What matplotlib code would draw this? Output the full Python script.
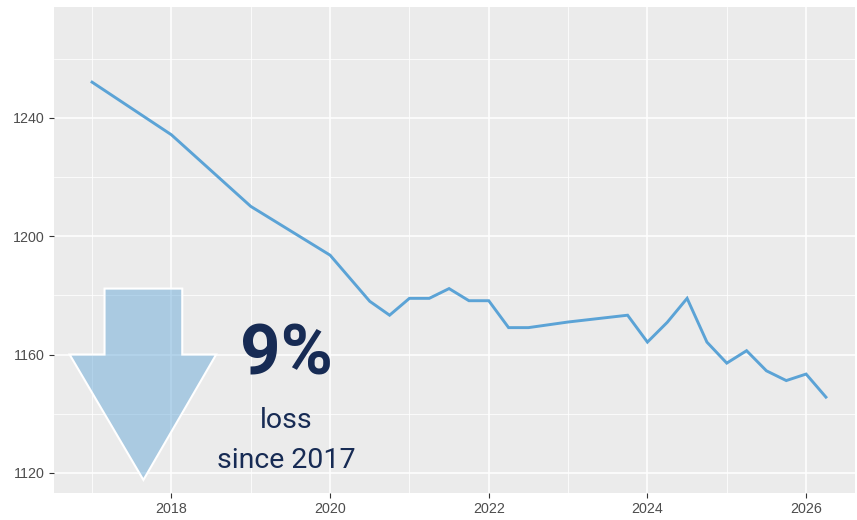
import matplotlib.pyplot as plt
from matplotlib.patches import Polygon
from matplotlib.colors import to_rgba

# quarterly values, decimal years
years = [2017.0, 2018.0, 2019.0, 2020.0, 2020.5, 2020.75, 2021.0, 2021.25,
         2021.5, 2021.75, 2022.0, 2022.25, 2022.5, 2023.0, 2023.75, 2024.0,
         2024.25, 2024.5, 2024.75, 2025.0, 2025.25, 2025.5, 2025.75, 2026.0, 2026.25]
values = [1252.1, 1234.3, 1210.1, 1193.6, 1178.0, 1173.3, 1179.0, 1179.0,
          1182.3, 1178.2, 1178.2, 1169.1, 1169.1, 1171.0, 1173.3, 1164.2,
          1170.9, 1179.0, 1164.2, 1157.1, 1161.3, 1154.5, 1151.2, 1153.4, 1145.6]

x_ticks = [2018, 2020, 2022, 2024, 2026]
y_ticks = [1120, 1160, 1200, 1240]

pct_label = "9%"
loss_label = "loss"
since_label = "since 2017"

line_col = "#5BA3D6"
navy = "#172B54"

fig = plt.figure(figsize=(8.57, 5.2), dpi=100)
ax = fig.add_axes([0.063, 0.052, 0.935, 0.9345])
ax.set_facecolor("#EBEBEB")
for s in ax.spines.values():
    s.set_visible(False)

ax.set_xlim(2016.52, 2026.62)
ax.set_ylim(1113.2, 1277.5)
ax.set_xticks(x_ticks)
ax.set_yticks(y_ticks)
ax.set_xticks([2017, 2019, 2021, 2023, 2025], minor=True)
ax.set_yticks([1140, 1180, 1220, 1260], minor=True)
ax.grid(which="major", color="white", lw=1.1)
ax.grid(which="minor", color="white", lw=0.55)
ax.set_axisbelow(True)
ax.tick_params(which="major", length=3.5, color="#333333", labelcolor="#4D4D4D",
               labelsize=10.3, pad=3)
ax.tick_params(which="minor", length=0)
for lab in ax.get_xticklabels() + ax.get_yticklabels():
    lab.set_fontfamily("Liberation Sans")

ax.plot(years, values, color=line_col, lw=2.1, solid_joinstyle="miter", zorder=3)

# down arrow annotation
shaft_l, shaft_r = 2017.157, 2018.137
head_l, head_r, tip_x = 2016.717, 2018.564, 2017.647
top_y, neck_y, tip_y = 1182.3, 1160.0, 1117.6
arrow = Polygon([(shaft_l, top_y), (shaft_r, top_y), (shaft_r, neck_y),
                 (head_r, neck_y), (tip_x, tip_y), (head_l, neck_y),
                 (shaft_l, neck_y)],
                closed=True, facecolor=to_rgba(line_col, 0.45),
                edgecolor="white", lw=1.5, zorder=2)
ax.add_patch(arrow)

ax.text(2019.45, 1153.2, pct_label, ha="center", va="baseline", fontsize=51,
        fontweight="bold", color=navy, family="Roboto")
ax.text(2019.45, 1135.3, loss_label, ha="center", va="baseline", fontsize=20.5,
        color=navy, family="Roboto")
ax.text(2019.45, 1121.8, since_label, ha="center", va="baseline", fontsize=20.5,
        color=navy, family="Roboto")

fig.savefig("out.png", dpi=100)
